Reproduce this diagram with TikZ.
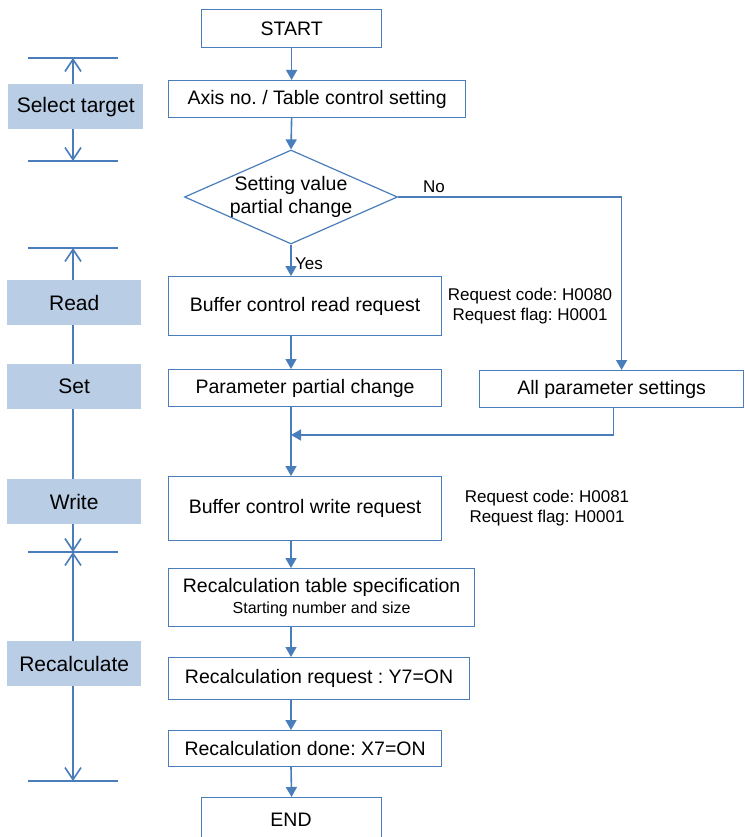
\documentclass[tikz,border=0pt]{standalone}
\usepackage{fontspec}
\setmainfont{Liberation Sans}
\usetikzlibrary{positioning,calc,shapes.geometric,arrows.meta}
\definecolor{flowblue}{HTML}{4A7EBB}
\definecolor{tagfill}{HTML}{B9CDE5}
\tikzset{
	flow/.style = {draw=flowblue, line width=1.6pt, -{Triangle[length=10pt,width=11pt]}},
	dim/.style = {draw=flowblue, line width=1.6pt, -{Straight Barb[length=12pt,width=16pt]}},
	rule/.style = {draw=flowblue, line width=1.2pt}
}
\newcommand{\mainfont}{\fontsize{19.5}{23}\selectfont}
\newcommand{\notefont}{\fontsize{17}{20}\selectfont}
\frenchspacing

\begin{document}
\begin{tikzpicture}[x=1pt,y=-1pt]
            \tikzset{box/.style = {draw=flowblue, line width=1.2pt, anchor=north west, inner sep=0pt, font=\mainfont}}
            \tikzset{tag/.style = {fill=tagfill, anchor=north west, minimum width=134, minimum height=45, inner sep=0pt, font=\fontsize{21}{24}\selectfont}}
            \tikzset{note/.style = {align=center, font=\notefont}}
            \useasboundingbox (0,0) rectangle (744,837);
            % main column
            \node[box, minimum width=180, minimum height=38] (start) at (201,9) {START};
            \node[box, minimum width=297, minimum height=37] (axis) at (168,80) {Axis no. / Table control setting};
            \node[diamond, aspect=2.27, draw=flowblue, line width=1.2pt, minimum width=213, minimum height=94, inner sep=-1.5pt, align=center, font=\mainfont] (dia) at (291,197) {Setting value\\partial change};
            \node[box, minimum width=273, minimum height=59] (read) at (168,276) {Buffer control read request};
            \node[box, minimum width=273, minimum height=37] (param) at (168,369) {Parameter partial change};
            \node[box, minimum width=264, minimum height=37] (allp) at (479,370) {All parameter settings};
            \node[box, minimum width=273, minimum height=64] (write) at (168,476) {Buffer control write request};
            \node[box, minimum width=306, minimum height=58, align=center] (spec) at (168,568) {Recalculation table specification\\[-2pt]{\fontsize{16}{18}\selectfont Starting number and size}};
            \node[box, minimum width=301, minimum height=42] (recreq) at (168,657) {Recalculation request : Y7=ON};
            \node[box, minimum width=273, minimum height=36] (recdone) at (168,730) {Recalculation done: X7=ON};
            \node[box, minimum width=180, minimum height=60] (end) at (201,797) {};
            \node[font=\mainfont] (endtxt) at (291,820) {END};
            \node[note] (rdnote) at (530,306) {Request code: H0080\\Request flag: H0001};
            \node[note] (wrnote) at (547,508) {Request code: H0081\\Request flag: H0001};
            \coordinate (join) at (291,435);
            % flow
            \draw[flow] (start) -- (start |- axis.north);
            \draw[flow] (start |- axis.south) -- (dia.north);
            \draw[flow] (dia.south) -- (dia.south |- read.north) node[pos=0.6, right, font=\notefont] {Yes};
            \draw[flow] (dia.south |- read.south) -- (dia.south |- param.north);
            \draw[flow] (dia.east) -| ([xshift=10]allp.north) node[pos=0.08, above, font=\notefont] {No};
            \draw[flow] ([xshift=2]allp.south) |- (join);
            \draw[flow] (dia.south |- param.south) -- (dia.south |- write.north);
            \draw[flow] (dia.south |- write.south) -- (dia.south |- spec.north);
            \draw[flow] (dia.south |- spec.south) -- (dia.south |- recreq.north);
            \draw[flow] (dia.south |- recreq.south) -- (dia.south |- recdone.north);
            \draw[flow] (dia.south |- recdone.south) -- (end.north);
            % steps on the left
            \node[tag, minimum width=135] (seltag) at (8,84) {Select target};
            \node[tag] (readtag) at (7,280) {Read};
            \node[tag] (settag) at (7,364) {Set};
            \node[tag] (writetag) at (7,479) {Write};
            \node[tag] (recalctag) at (7,641) {Recalculate};
            \foreach \y in {58,161,248,552,781}
                \draw[rule] (28,\y) -- (118,\y);
            \coordinate (t1) at (73,58);
            \coordinate (t2) at (73,161);
            \coordinate (t3) at (73,248);
            \coordinate (t4) at (73,552);
            \coordinate (t5) at (73,781);
            \draw[dim] (seltag.north -| t1) -- (t1);
            \draw[dim] (seltag.south -| t1) -- (t2);
            \draw[dim] (readtag.north -| t3) -- (t3);
            \draw[rule, line width=1.6pt] (readtag.south -| t3) -- (settag.north -| t3);
            \draw[rule, line width=1.6pt] (settag.south -| t3) -- (writetag.north -| t3);
            \draw[dim] (writetag.south -| t3) -- (t4);
            \draw[dim] (recalctag.north -| t4) -- (t4);
            \draw[dim] (recalctag.south -| t4) -- (t5);
        \end{tikzpicture}
\end{document}
